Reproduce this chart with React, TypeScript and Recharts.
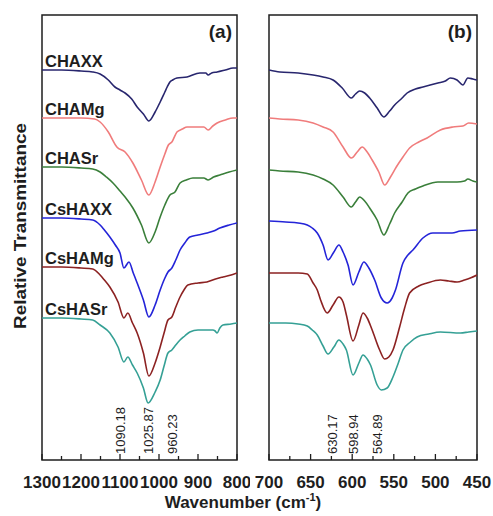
import React from 'react';
import { LineChart, Line, XAxis, YAxis, ReferenceArea, ReferenceLine } from 'recharts';

type Pt = [number, number];

// Panel (a): 1300–800 cm-1, [wavenumber, relative transmittance (a.u.)]
const CHAXX_A: Pt[] = [[1300,390],[1250,390],[1200,389],[1170,388],[1151,386],[1130,380],[1113,373],[1100,370],[1087,367],[1070,361],[1056,353],[1040,346],[1026,339],[1010,348],[997,358],[985,368],[979,373],[972,378],[965,380],[954,382],[928,383],[895,387],[880,387],[874,385],[865,387],[851,388],[830,390],[810,392],[800,392]];
const CHAMG_A: Pt[] = [[1300,342],[1250,342],[1200,342],[1165,341],[1151,338],[1130,328],[1108,313],[1087,308],[1067,297],[1045,280],[1026,265],[1010,278],[997,293],[985,306],[976,315],[967,318],[954,328],[940,331],[928,333],[885,333],[874,330],[862,334],[851,337],[830,340],[810,342],[800,342]];
const CHASR_A: Pt[] = [[1300,293],[1250,293],[1200,292],[1170,291],[1151,288],[1135,283],[1118,277],[1100,269],[1087,263],[1067,252],[1045,235],[1026,217],[1010,228],[997,243],[985,255],[972,265],[959,268],[946,277],[930,280],[913,282],[885,282],[874,280],[860,283],[844,285],[820,288],[800,290]];
const CSHAXX_A: Pt[] = [[1300,242],[1250,242],[1200,241],[1170,240],[1151,235],[1140,230],[1126,223],[1112,215],[1100,207],[1090,192],[1077,198],[1066,187],[1056,177],[1040,160],[1026,143],[1010,155],[997,170],[986,181],[977,188],[967,192],[957,200],[946,210],[934,217],[921,223],[900,225],[877,227],[860,229],[844,232],[820,235],[800,237]];
const CSHAMG_A: Pt[] = [[1300,193],[1250,193],[1200,192],[1170,191],[1151,185],[1140,180],[1126,173],[1105,158],[1090,142],[1080,147],[1068,137],[1056,127],[1040,107],[1026,84],[1010,97],[997,113],[987,127],[977,140],[967,143],[957,153],[946,163],[936,170],[926,175],[900,177],[877,178],[855,181],[836,183],[815,185],[800,187]];
const CSHASR_A: Pt[] = [[1300,142],[1250,142],[1200,141],[1170,140],[1151,135],[1126,127],[1105,113],[1090,98],[1080,103],[1068,95],[1056,87],[1040,72],[1028,57],[1010,68],[997,80],[987,94],[977,107],[967,110],[957,115],[946,120],[934,124],[921,128],[900,130],[885,130],[862,130],[856,129],[851,127],[844,132],[836,135],[815,136],[800,137]];

// Panel (b): 700–450 cm-1
const CHAXX_B: Pt[] = [[700,390],[687,388],[665,387],[647,385],[635,383],[623,380],[612,372],[601,362],[596,366],[591,369],[585,367],[579,362],[570,352],[562,343],[555,349],[549,355],[540,362],[534,367],[524,371],[515,373],[497,377],[488,379],[482,382],[474,380],[467,375],[461,382],[455,381],[450,380]];
const CHAMG_B: Pt[] = [[700,342],[687,341],[665,340],[647,337],[635,333],[623,328],[611,313],[601,302],[594,308],[588,313],[582,308],[576,300],[568,288],[561,275],[554,283],[547,293],[539,303],[531,312],[520,318],[510,322],[494,330],[479,333],[467,334],[460,337],[450,336]];
const CHASR_B: Pt[] = [[700,290],[687,289],[665,288],[647,285],[635,281],[623,275],[611,263],[601,253],[596,258],[591,263],[585,259],[579,252],[570,240],[562,225],[555,236],[549,247],[540,258],[533,267],[524,271],[515,274],[497,278],[474,278],[465,279],[461,281],[455,279],[450,278]];
const CSHAXX_B: Pt[] = [[700,239],[680,238],[665,237],[654,235],[648,232],[642,227],[635,215],[629,200],[622,208],[616,215],[611,208],[605,195],[599,175],[592,188],[586,198],[580,192],[573,180],[565,162],[558,157],[552,162],[548,170],[539,197],[533,205],[527,210],[515,222],[503,227],[480,227],[470,229],[450,230]];
const CSHAMG_B: Pt[] = [[700,187],[680,187],[665,187],[654,186],[647,177],[642,170],[638,160],[630,147],[623,155],[616,163],[611,158],[607,145],[599,119],[592,135],[587,147],[582,142],[576,130],[567,110],[561,101],[556,103],[551,110],[543,133],[537,152],[531,167],[520,174],[510,177],[494,180],[484,179],[474,178],[465,180],[458,182],[450,185]];
const CSHASR_B: Pt[] = [[700,137],[680,137],[665,136],[654,134],[648,130],[642,125],[635,114],[629,106],[622,113],[616,120],[611,116],[607,110],[599,85],[592,97],[587,105],[582,101],[578,95],[570,75],[565,70],[558,72],[551,83],[545,96],[539,110],[530,118],[522,123],[508,126],[494,128],[470,127],[460,128],[450,129]];

const SERIES_NAMES = ['CHAXX', 'CHAMg', 'CHASr', 'CsHAXX', 'CsHAMg', 'CsHASr'];
const SERIES_COLORS = ['#28266e', '#f07c7c', '#3a7f3a', '#2424d8', '#8c2222', '#35a095'];
const DATA_A = [CHAXX_A, CHAMG_A, CHASR_A, CSHAXX_A, CSHAMG_A, CSHASR_A];
const DATA_B = [CHAXX_B, CHAMG_B, CHASR_B, CSHAXX_B, CSHAMG_B, CSHASR_B];

const TICKS_A = [1300, 1250, 1200, 1150, 1100, 1050, 1000, 950, 900, 850, 800];
const TICKS_B = [700, 675, 650, 625, 600, 575, 550, 525, 500, 475, 450];
const PEAKS_A = ['1090.18', '1025.87', '960.23'];
const PEAKS_B = ['630.17', '598.94', '564.89'];
const PEAK_NUDGE_A = [-3, 0, -2];
const PEAK_NUDGE_B = [5, 0, -4];

const FONT = '"Liberation Sans", Arial, Helvetica, sans-serif';
const INK = '#1e1e1e';
const Y_DOMAIN: [number, number] = [0, 445];

const rows = (pts: Pt[]) => pts.map(([w, t]) => ({ w, t }));

function makeTick(step: number) {
  return (props: any) => {
    const { x, y, payload } = props;
    const v = payload.value as number;
    const major = Math.abs(v % step) < 1e-6;
    return (
      <g>
        <line x1={x} x2={x} y1={y} y2={y - (major ? 6 : 4)} stroke={INK} strokeWidth={1.3} />
        {major && (
          <text x={x} y={y + 28} textAnchor="middle" fontFamily={FONT} fontWeight="bold" fontSize={17} fill={INK}>
            {v}
          </text>
        )}
      </g>
    );
  };
}

const PeakLabel = (props: any) => {
  const { viewBox, text, nudge } = props;
  if (!viewBox) return null;
  const x = viewBox.x + (nudge || 0);
  const yb = viewBox.y + viewBox.height - 6;
  return (
    <text
      transform={`translate(${x},${yb}) rotate(-90)`}
      textAnchor="start"
      dominantBaseline="central"
      fontFamily={FONT}
      fontSize={13}
      fill={INK}
    >
      {text}
    </text>
  );
};

const NameLabel = (props: any) => {
  const { viewBox, text } = props;
  if (!viewBox) return null;
  return (
    <text x={viewBox.x + 3} y={viewBox.y - 3} fontFamily={FONT} fontWeight="bold" fontSize={16.5} fill={INK}>
      {text}
    </text>
  );
};

interface PanelProps {
  data: Pt[][];
  ticks: number[];
  step: number;
  peaks: string[];
  nudges: number[];
  width: number;
  margin: { top: number; right: number; left: number; bottom: number };
  showNames: boolean;
}

function Panel({ data, ticks, step, peaks, nudges, width, margin, showNames }: PanelProps) {
  const lo = ticks[ticks.length - 1];
  const hi = ticks[0];
  return (
    <LineChart width={width} height={516} margin={margin}>
      <XAxis
        dataKey="w"
        type="number"
        domain={[lo, hi]}
        reversed
        allowDataOverflow
        ticks={ticks}
        interval={0}
        height={56}
        axisLine={false}
        tickLine={false}
        tickSize={0}
        tickMargin={0}
        tick={makeTick(step)}
      />
      <YAxis hide type="number" domain={Y_DOMAIN} allowDataOverflow />
      <ReferenceArea x1={lo} x2={hi} y1={Y_DOMAIN[0]} y2={Y_DOMAIN[1]} fill="none" stroke={INK} strokeWidth={1.5} />
      {data.map((pts, i) => (
        <Line
          key={SERIES_NAMES[i]}
          data={rows(pts)}
          dataKey="t"
          type="monotone"
          stroke={SERIES_COLORS[i]}
          strokeWidth={1.6}
          dot={false}
          activeDot={false}
          isAnimationActive={false}
        />
      ))}
      {showNames &&
        data.map((pts, i) => (
          <ReferenceLine key={'n' + i} y={pts[0][1]} stroke="none" label={<NameLabel text={SERIES_NAMES[i]} />} />
        ))}
      {peaks.map((p, i) => (
        <ReferenceLine key={p} x={parseFloat(p)} stroke="none" label={<PeakLabel text={p} nudge={nudges[i]} />} />
      ))}
    </LineChart>
  );
}

export default function App() {
  return (
    <div style={{ position: 'absolute', left: 0, top: 0, width: 493, height: 516, background: '#fff' }}>
      <div style={{ position: 'absolute', left: 0, top: 0 }}>
        <Panel
          data={DATA_A}
          ticks={TICKS_A}
          step={100}
          peaks={PEAKS_A}
          nudges={PEAK_NUDGE_A}
          width={250}
          margin={{ top: 15, right: 13, left: 42, bottom: 0 }}
          showNames
        />
      </div>
      <div style={{ position: 'absolute', left: 250, top: 0 }}>
        <Panel
          data={DATA_B}
          ticks={TICKS_B}
          step={50}
          peaks={PEAKS_B}
          nudges={PEAK_NUDGE_B}
          width={243}
          margin={{ top: 15, right: 16, left: 19, bottom: 0 }}
          showNames={false}
        />
      </div>
      <svg width={493} height={516} style={{ position: 'absolute', left: 0, top: 0, pointerEvents: 'none' }}>
        <text x={232} y={38} textAnchor="end" fontFamily={FONT} fontWeight="bold" fontSize={19} fill={INK}>(a)</text>
        <text x={472} y={38} textAnchor="end" fontFamily={FONT} fontWeight="bold" fontSize={19} fill={INK}>(b)</text>
        <text
          transform="translate(20,226) rotate(-90)"
          textAnchor="middle"
          dominantBaseline="central"
          fontFamily={FONT}
          fontWeight="bold"
          fontSize={17}
          textLength={206}
          lengthAdjust="spacingAndGlyphs"
          fill={INK}
        >
          Relative Transmittance
        </text>
        <text x={243} y={508} textAnchor="middle" fontFamily={FONT} fontWeight="bold" fontSize={17} fill={INK}>
          Wavenumber (cm
          <tspan fontSize={11} dy={-7}>-1</tspan>
          <tspan dy={7}>)</tspan>
        </text>
      </svg>
    </div>
  );
}
